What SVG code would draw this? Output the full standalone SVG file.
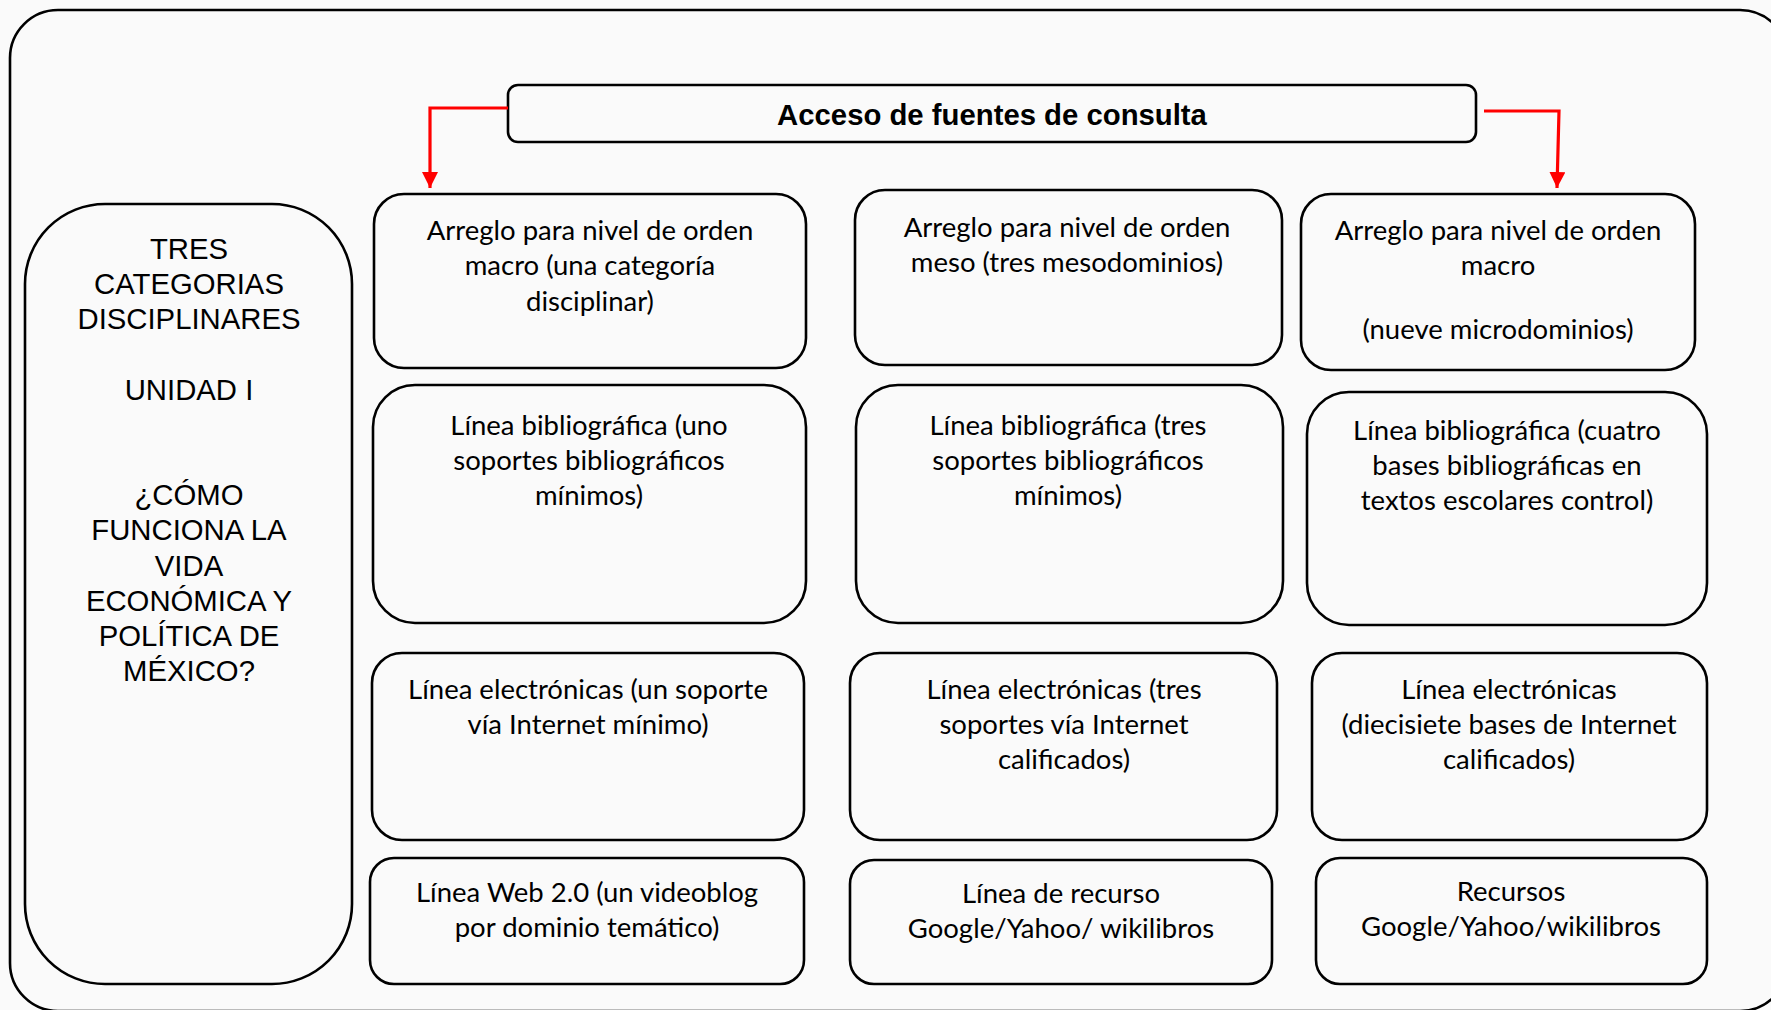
<svg xmlns="http://www.w3.org/2000/svg" width="1771" height="1010" viewBox="0 0 1771 1010">
<defs>
<style>
.box{fill:none;stroke:#000;stroke-width:2.6}
.t{font-family:Lato,"Open Sans",sans-serif;font-size:27.5px;fill:#000;text-anchor:middle}
.a{font-family:"Liberation Sans",Arial,sans-serif;font-size:29.3px;fill:#000;text-anchor:middle}
.conn{fill:none;stroke:#ff0000;stroke-width:3.2}
</style>
<marker id="ah" viewBox="0 0 10 10" refX="10" refY="5" markerWidth="5" markerHeight="5" markerUnits="strokeWidth" orient="auto">
<path d="M0,0 L10,5 L0,10 z" fill="#ff0000"/>
</marker>
</defs>
<rect x="0" y="0" width="1771" height="1010" fill="#fafafa"/>
<g id="frame"><rect class="box" x="10" y="10" width="1778" height="1001" rx="48"/></g>

<g id="title">
<rect class="box" x="508" y="85" width="968" height="57" rx="10"/>
<text class="a" x="992" y="125" font-weight="bold">Acceso de fuentes de consulta</text>
</g>

<g id="connectors">
<path class="conn" d="M508,108 H430 V188" marker-end="url(#ah)"/>
<path class="conn" d="M1484,111 H1559 L1557,188" marker-end="url(#ah)"/>
</g>

<g id="left">
<rect class="box" x="25" y="204" width="327" height="780" rx="80"/>
<text class="a" x="189" y="259">TRES</text>
<text class="a" x="189" y="294">CATEGORIAS</text>
<text class="a" x="189" y="329">DISCIPLINARES</text>
<text class="a" x="189" y="400">UNIDAD I</text>
<text class="a" x="189" y="505">¿CÓMO</text>
<text class="a" x="189" y="540">FUNCIONA LA</text>
<text class="a" x="189" y="576">VIDA</text>
<text class="a" x="189" y="611">ECONÓMICA Y</text>
<text class="a" x="189" y="646">POLÍTICA DE</text>
<text class="a" x="189" y="681">MÉXICO?</text>
</g>

<g id="c1r1">
<rect class="box" x="374" y="194" width="432" height="174" rx="30"/>
<text class="t" x="590" y="240">Arreglo para nivel de orden</text>
<text class="t" x="590" y="275">macro (una categoría</text>
<text class="t" x="590" y="311">disciplinar)</text>
</g>
<g id="c2r1">
<rect class="box" x="855" y="190" width="427" height="175" rx="30"/>
<text class="t" x="1067" y="237">Arreglo para nivel de orden</text>
<text class="t" x="1067" y="272">meso (tres mesodominios)</text>
</g>
<g id="c3r1">
<rect class="box" x="1301" y="194" width="394" height="176" rx="30"/>
<text class="t" x="1498" y="240">Arreglo para nivel de orden</text>
<text class="t" x="1498" y="275">macro</text>
<text class="t" x="1498" y="339">(nueve microdominios)</text>
</g>

<g id="c1r2">
<rect class="box" x="373" y="385" width="433" height="238" rx="42"/>
<text class="t" x="589" y="435">Línea bibliográfica (uno</text>
<text class="t" x="589" y="470">soportes bibliográficos</text>
<text class="t" x="589" y="505">mínimos)</text>
</g>
<g id="c2r2">
<rect class="box" x="856" y="385" width="427" height="238" rx="42"/>
<text class="t" x="1068" y="435">Línea bibliográfica (tres</text>
<text class="t" x="1068" y="470">soportes bibliográficos</text>
<text class="t" x="1068" y="505">mínimos)</text>
</g>
<g id="c3r2">
<rect class="box" x="1307" y="392" width="400" height="233" rx="42"/>
<text class="t" x="1507" y="440">Línea bibliográfica (cuatro</text>
<text class="t" x="1507" y="475">bases bibliográficas en</text>
<text class="t" x="1507" y="510">textos escolares control)</text>
</g>

<g id="c1r3">
<rect class="box" x="372" y="653" width="432" height="187" rx="30"/>
<text class="t" x="588" y="699">Línea electrónicas (un soporte</text>
<text class="t" x="588" y="734">vía Internet mínimo)</text>
</g>
<g id="c2r3">
<rect class="box" x="850" y="653" width="427" height="187" rx="30"/>
<text class="t" x="1064" y="699">Línea electrónicas (tres</text>
<text class="t" x="1064" y="734">soportes vía Internet</text>
<text class="t" x="1064" y="769">calificados)</text>
</g>
<g id="c3r3">
<rect class="box" x="1312" y="653" width="395" height="187" rx="30"/>
<text class="t" x="1509" y="699">Línea electrónicas</text>
<text class="t" x="1509" y="734">(diecisiete bases de Internet</text>
<text class="t" x="1509" y="769">calificados)</text>
</g>

<g id="c1r4">
<rect class="box" x="370" y="858" width="434" height="126" rx="24"/>
<text class="t" x="587" y="902">Línea Web 2.0 (un videoblog</text>
<text class="t" x="587" y="937">por dominio temático)</text>
</g>
<g id="c2r4">
<rect class="box" x="850" y="860" width="422" height="124" rx="24"/>
<text class="t" x="1061" y="903">Línea de recurso</text>
<text class="t" x="1061" y="938">Google/Yahoo/ wikilibros</text>
</g>
<g id="c3r4">
<rect class="box" x="1316" y="858" width="391" height="126" rx="24"/>
<text class="t" x="1511" y="901">Recursos</text>
<text class="t" x="1511" y="936">Google/Yahoo/wikilibros</text>
</g>
</svg>
